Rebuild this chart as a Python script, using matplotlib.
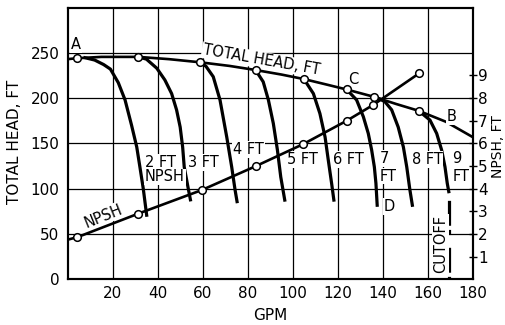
import numpy as np
import matplotlib.pyplot as plt

plt.rcParams['font.family'] = 'DejaVu Sans'

# total head curve of the pump
head_gpm = [0, 4, 15, 31.4, 45, 59, 72, 83.5, 95, 105, 115, 124, 136, 146, 156, 168, 180]
head_ft = [243, 244, 245.5, 245.5, 243, 239.5, 235.5, 231, 226, 221, 215, 209.5, 201.5, 193.5, 186, 174, 157]
head_mark_gpm = [4, 31.4, 59, 83.5, 105, 124, 136, 156]
head_mark_ft = [244, 245.5, 239.5, 231, 221, 209.5, 201.5, 186]

# NPSH available (right axis)
npsh_gpm = [0, 4.3, 31.4, 59.6, 83.7, 104.7, 124, 135.8, 156.3]
npsh_ft = [1.75, 1.86, 2.9, 3.94, 5.0, 5.97, 7.0, 7.7, 9.1]

# head breakdown at each NPSH
drop_2ft = ([7, 12, 16, 19, 22.5, 25.5, 28.4, 30.7, 32.1, 33.6, 35.2],
            [245, 242, 237, 232, 217, 198, 170, 146, 124, 100, 69])
drop_3ft = ([31.4, 35, 39.6, 43.2, 46.2, 48.4, 50, 51.1, 51.8, 53.6, 54.7],
            [245.5, 243, 233, 220, 205, 187, 168, 146, 124, 100, 86])
drop_4ft = ([59, 61.5, 64.7, 67.7, 70.7, 72.9, 74.4, 75.4],
            [239.5, 235, 223.6, 198, 157, 124, 98.6, 84])
drop_5ft = ([83.5, 86.9, 89.2, 91.4, 93.2, 94.7, 96.6],
            [231, 218, 198, 172, 143, 113, 85.7])
drop_6ft = ([105, 109.2, 112.1, 114.4, 115.8, 117.3, 118.4],
            [221, 205, 183, 157, 132, 106, 85.7])
drop_7ft = ([124, 128.4, 131.4, 133.6, 135.1, 136.3, 137, 137.6],
            [209.5, 198, 179.5, 161, 142.7, 124, 106, 80])
drop_8ft = ([137.5, 141, 144, 146.9, 149.2, 150.7, 152.1, 153.3],
            [200.5, 196, 187, 168, 146, 124, 98.6, 80])
drop_9ft = ([156, 161, 164, 166.2, 167.7, 168.7, 169.5],
            [186, 175.8, 161, 142.7, 124, 106, 95])
drops = [drop_2ft, drop_3ft, drop_4ft, drop_5ft, drop_6ft, drop_7ft, drop_8ft, drop_9ft]

cutoff_gpm = 169.6
cutoff_top = 95

fig = plt.figure(figsize=(5.05, 3.25), dpi=100)
ax = fig.add_axes([0.134, 0.1406, 0.802, 0.8363])
ax.set_xlim(0, 180)
ax.set_ylim(0, 300)
ax.set_xticks(np.arange(20, 181, 20))
ax.set_yticks(np.arange(0, 251, 50))
ax.grid(True, color='k', lw=0.9)
ax.set_axisbelow(True)
ax.tick_params(length=0, labelsize=11)
ax.tick_params(axis='x', pad=5)
ax.tick_params(axis='y', pad=6)
for s in ax.spines.values():
    s.set_linewidth(1.5)

ax2 = ax.twinx()
ax2.set_ylim(0, 12)
ax2.set_yticks(range(1, 10))
ax2.tick_params(direction='inout', length=6, width=1, labelsize=11, pad=1)
for s in ax2.spines.values():
    s.set_linewidth(1.5)

ax.plot(head_gpm, head_ft, 'k-', lw=1.9, zorder=2)
for g, h in drops:
    ax.plot(g, h, 'k-', lw=2.3, zorder=2, solid_capstyle='butt')
ax.plot([cutoff_gpm, cutoff_gpm], [cutoff_top, 0], 'k', lw=2.3,
        linestyle=(12.4, (7.8, 1.3, 1.6, 4)), zorder=2)
ax.plot(head_mark_gpm, head_mark_ft, 'o', ms=5.5, mfc='white', mec='k', mew=1.1, zorder=4)

ax2.plot(npsh_gpm, npsh_ft, 'k-', lw=1.9, zorder=2)
ax2.plot(npsh_gpm[1:], npsh_ft[1:], 'o', ms=5.5, mfc='white', mec='k', mew=1.1, zorder=4)

box = dict(facecolor='white', edgecolor='none', pad=0.6)
kw = dict(fontsize=10.5, zorder=3, bbox=box)
ax.text(3.7, 259, 'A', ha='center', va='center', **kw)
ax.text(126.8, 220, 'C', ha='center', va='center', **kw)
ax.text(170.7, 179.5, 'B', ha='center', va='center', **kw)
ax.text(142.9, 80, 'D', ha='center', va='center', **kw)
ax.text(86, 242, 'TOTAL HEAD, FT', rotation=-10, rotation_mode='anchor',
        ha='center', va='center', **kw)
ax.text(16.1, 70, 'NPSH', rotation=22, rotation_mode='anchor',
        ha='center', va='center', **kw)

ax.text(34.2, 129, '2 FT', ha='left', va='center', **kw)
ax.text(34.4, 113, 'NPSH', ha='left', va='center', **kw)
ax.text(53.5, 129, '3 FT', ha='left', va='center', **kw)
ax.text(73.6, 143, '4 FT', ha='left', va='center', **kw)
ax.text(97.6, 132, '5 FT', ha='left', va='center', **kw)
ax.text(118, 132, '6 FT', ha='left', va='center', **kw)
ax.text(138.8, 133, '7', ha='left', va='center', **kw)
ax.text(138.8, 114, 'FT', ha='left', va='center', **kw)
ax.text(152.9, 132, '8 FT', ha='left', va='center', **kw)
ax.text(171, 133, '9', ha='left', va='center', **kw)
ax.text(171, 114, 'FT', ha='left', va='center', **kw)
ax.text(165.6, 39, 'CUTOFF', rotation=90, ha='center', va='center', **kw)

fig.text(15 / 505, 1 - 142 / 325, 'TOTAL HEAD, FT', rotation=90,
         ha='center', va='center', fontsize=11)
fig.text(270 / 505, 1 - 315 / 325, 'GPM', ha='center', va='center', fontsize=11)
fig.text(1.0, 1 - 147 / 325, 'NPSH, FT', rotation=90,
         ha='right', va='center', fontsize=10)

fig.savefig('out.png', dpi=100)
